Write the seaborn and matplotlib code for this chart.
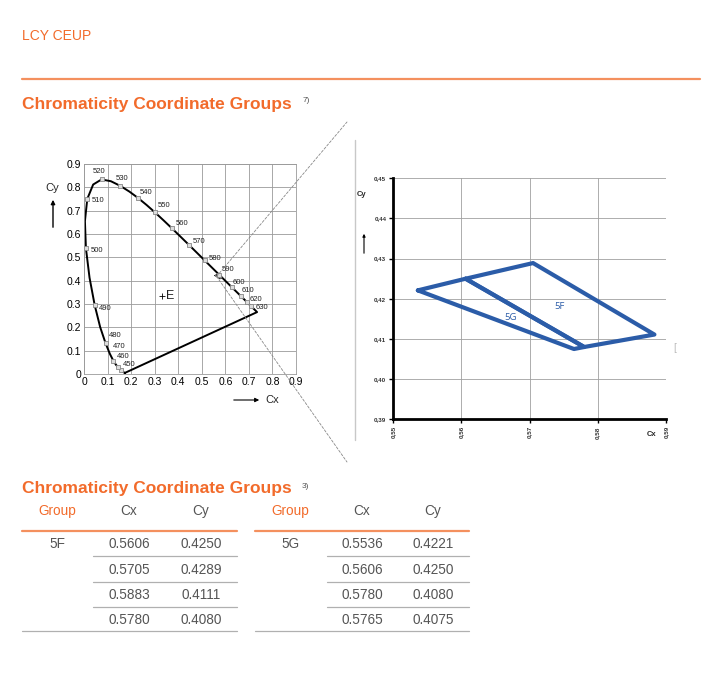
import numpy as np
import pandas as pd
import matplotlib
matplotlib.use("Agg")
import matplotlib.pyplot as plt
import seaborn as sns
from matplotlib.lines import Line2D
from matplotlib.patches import ConnectionPatch, FancyArrowPatch
from matplotlib.ticker import FuncFormatter

# spectral locus (CIE 1931), wavelength -> Cx, Cy
locus_nm = [380, 420, 440, 450, 460, 465, 470, 475, 480, 485, 490, 495, 500, 505, 510, 515,
            520, 525, 530, 535, 540, 545, 550, 555, 560, 565, 570, 575, 580, 585, 590, 595,
            600, 610, 620, 630, 640, 650, 700]
locus_cx = [0.1741, 0.1714, 0.1644, 0.1566, 0.1440, 0.1355, 0.1241, 0.1096, 0.0913, 0.0687,
            0.0454, 0.0235, 0.0082, 0.0039, 0.0139, 0.0389, 0.0743, 0.1142, 0.1547, 0.1929,
            0.2296, 0.2658, 0.3016, 0.3373, 0.3731, 0.4087, 0.4441, 0.4788, 0.5125, 0.5448,
            0.5752, 0.6029, 0.6270, 0.6658, 0.6915, 0.7079, 0.7190, 0.7260, 0.7347]
locus_cy = [0.0050, 0.0051, 0.0109, 0.0177, 0.0297, 0.0399, 0.0578, 0.0868, 0.1327, 0.2007,
            0.2950, 0.4127, 0.5384, 0.6548, 0.7502, 0.8120, 0.8338, 0.8262, 0.8059, 0.7816,
            0.7543, 0.7243, 0.6923, 0.6589, 0.6245, 0.5896, 0.5547, 0.5202, 0.4866, 0.4544,
            0.4242, 0.3965, 0.3725, 0.3340, 0.3083, 0.2920, 0.2809, 0.2740, 0.2653]
labeled_nm = [450, 460, 470, 480, 490, 500, 510, 520, 530, 540, 550, 560, 570, 580, 590,
              600, 610, 620, 630]

# white point E
e_cx, e_cy = 0.333, 0.333

# chromaticity groups
group_names = ["5F", "5G"]
f_cx = [0.5606, 0.5705, 0.5883, 0.5780]
f_cy = [0.4250, 0.4289, 0.4111, 0.4080]
g_cx = [0.5536, 0.5606, 0.5780, 0.5765]
g_cy = [0.4221, 0.4250, 0.4080, 0.4075]

left_ticks = [0, 0.1, 0.2, 0.3, 0.4, 0.5, 0.6, 0.7, 0.8, 0.9]
right_xticks = [0.55, 0.56, 0.57, 0.58, 0.59]
right_yticks = [0.39, 0.40, 0.41, 0.42, 0.43, 0.44, 0.45]

# label offsets (pixels, right/up) for the wavelength labels
lab_off = {450: (2.4, 4.9), 460: (-1.2, 10.3), 470: (0, 13.8), 480: (3.7, 7.1), 490: (4.4, -3.7),
           500: (4.4, -1.7), 510: (4.8, -1.4), 520: (-8.6, 7.7), 530: (-4.9, 7.9), 540: (1.5, 5.8),
           550: (2.2, 6.5), 560: (3.8, 4.3), 570: (3.8, 3.5), 580: (4.1, 1.5), 590: (1.9, 5.1),
           600: (0.5, 4.8), 610: (0.5, 5.8), 620: (2.8, 3.0), 630: (4.7, -2.0)}

W, H = 709, 677
ORANGE = "#F26B2B"
ORANGE_LINE = "#F4905E"
GRAY_TXT = "#555555"
BLUE = "#2B5CA8"

sns.set_theme(style="white")
plt.rcParams["font.family"] = ["Liberation Sans", "DejaVu Sans"]

fig = plt.figure(figsize=(W / 100, H / 100), dpi=100)
fig.patch.set_facecolor("white")


def fx(px):
    return px / W


def fy(py):
    return 1 - py / H


def hline(x0, x1, y, color, lw):
    fig.add_artist(Line2D([fx(x0), fx(x1)], [fy(y), fy(y)], color=color, lw=lw,
                          transform=fig.transFigure))


def arrow(p0, p1, scale, lw):
    fig.add_artist(FancyArrowPatch((fx(p0[0]), fy(p0[1])), (fx(p1[0]), fy(p1[1])),
                                   transform=fig.transFigure, arrowstyle="-|>",
                                   mutation_scale=scale, lw=lw, color="black"))


# header
fig.text(fx(22), fy(36), "LCY CEUP", color=ORANGE, fontsize=10, va="center", ha="left")
hline(22, 700, 79, ORANGE_LINE, 1.6)
fig.text(fx(22), fy(104), "Chromaticity Coordinate Groups", color=ORANGE, fontsize=12.5,
         fontweight="bold", va="center", ha="left")
fig.text(fx(303), fy(100), "7)", color=GRAY_TXT, fontsize=6, va="center", ha="left")

# ---- left chart: CIE diagram
axL = fig.add_axes([fx(84), fy(374), (296 - 84) / W, (374 - 164) / H])
closed = pd.DataFrame({"cx": locus_cx + [locus_cx[0]], "cy": locus_cy + [locus_cy[0]]})
sns.lineplot(data=closed, x="cx", y="cy", sort=False, estimator=None, color="black", lw=1.4, ax=axL)
pts = pd.DataFrame({"nm": locus_nm, "cx": locus_cx, "cy": locus_cy})
pts = pts[pts["nm"].isin(labeled_nm)]
sns.scatterplot(data=pts, x="cx", y="cy", marker="s", s=9, facecolor="#dddddd", edgecolor="#888888",
                linewidth=0.6, ax=axL, zorder=3)
for nm, cx, cy in zip(pts["nm"], pts["cx"], pts["cy"]):
    dx, dy = lab_off[nm]
    axL.annotate(str(nm), (cx, cy), xytext=(dx * 0.72, dy * 0.72), textcoords="offset points",
                 fontsize=5.5, color="#222222", ha="left", va="center")
for cx, cy in [(f_cx, f_cy), (g_cx, g_cy)]:
    axL.plot(cx + [cx[0]], cy + [cy[0]], color="#333333", lw=0.5)
axL.plot([e_cx], [e_cy], marker="+", color="black", ms=4, mew=0.6)
axL.annotate("E", (e_cx, e_cy), xytext=(2.5, 0), textcoords="offset points", fontsize=9,
             ha="left", va="center", color="#222222")
axL.set_xlim(0, 0.9)
axL.set_ylim(0, 0.9)
axL.set_xticks(left_ticks)
axL.set_yticks(left_ticks)
fmt = FuncFormatter(lambda v, p: "0" if v == 0 else f"{v:.1f}")
axL.xaxis.set_major_formatter(fmt)
axL.yaxis.set_major_formatter(fmt)
axL.tick_params(length=0, labelsize=7.5, pad=2, colors="black")
axL.grid(True, color="#9a9a9a", lw=0.6)
for s in axL.spines.values():
    s.set_color("#9a9a9a")
    s.set_linewidth(0.6)
axL.set_xlabel("")
axL.set_ylabel("")
fig.text(fx(45), fy(188), "Cy", fontsize=8, va="center", ha="left")
fig.text(fx(265), fy(400), "Cx", fontsize=8, va="center", ha="left")
arrow((53, 230), (53, 197), 6, 1)
arrow((231, 400), (262, 400), 6, 0.8)

# zoom lines
for end in [(347, 122), (347, 462)]:
    con = ConnectionPatch(xyA=(0.563, 0.418), coordsA=axL.transData,
                          xyB=(fx(end[0]), fy(end[1])), coordsB=fig.transFigure,
                          color="#888888", lw=0.6, linestyle=(0, (3, 2)))
    fig.add_artist(con)

# right panel separator line
fig.add_artist(Line2D([fx(355), fx(355)], [fy(140), fy(440)], color="#c8c8c8", lw=1,
                      transform=fig.transFigure))
fig.text(fx(673), fy(348), "[", fontsize=7, color="#bbbbbb", va="center", ha="left")

# ---- right chart: groups
axR = fig.add_axes([fx(393.3), fy(419.3), (666 - 393.3) / W, (419.3 - 178.3) / H])
poly = pd.DataFrame({
    "cx": f_cx + [f_cx[0]] + g_cx + [g_cx[0]],
    "cy": f_cy + [f_cy[0]] + g_cy + [g_cy[0]],
    "group": [group_names[0]] * 5 + [group_names[1]] * 5,
})
sns.lineplot(data=poly, x="cx", y="cy", hue="group", sort=False, estimator=None,
             palette=[BLUE, BLUE], lw=3, legend=False, ax=axR, zorder=3)
# group labels inside the shapes
axR.text(np.mean(f_cx), np.mean(f_cy) - 0.0002, group_names[0], color=BLUE, fontsize=6.8,
         ha="center", va="center", family=["Open Sans", "DejaVu Sans"])
axR.text(np.mean(g_cx) + 0.0001, np.mean(g_cy) - 0.0004, group_names[1], color=BLUE, fontsize=6.8,
         ha="center", va="center", family=["Open Sans", "DejaVu Sans"])
axR.set_xlim(0.55, 0.59)
axR.set_ylim(0.39, 0.45)
axR.set_xticks(right_xticks)
axR.set_yticks(right_yticks)
cfmt = FuncFormatter(lambda v, p: f"{v:.2f}".replace(".", ","))
axR.xaxis.set_major_formatter(cfmt)
axR.yaxis.set_major_formatter(cfmt)
axR.tick_params(axis="both", length=3, width=1, colors="black", labelsize=4.5, pad=2,
                direction="out", bottom=True, left=True)
axR.tick_params(axis="x", labelrotation=90)
for lab in axR.get_xticklabels() + axR.get_yticklabels():
    lab.set_fontweight("bold")
    lab.set_color("#333333")
axR.grid(True, color="#a0a0a0", lw=0.6)
for side in ["top", "right"]:
    axR.spines[side].set_visible(False)
for side in ["left", "bottom"]:
    axR.spines[side].set_color("black")
    axR.spines[side].set_linewidth(2)
axR.set_xlabel("")
axR.set_ylabel("")
fig.text(fx(357), fy(195), "Cy", fontsize=5.5, fontweight="bold", va="center", ha="left")
fig.text(fx(647), fy(434), "Cx", fontsize=5.5, fontweight="bold", va="center", ha="left")
arrow((364, 256), (364, 231), 4, 0.8)

# ---- table
fig.text(fx(22), fy(489), "Chromaticity Coordinate Groups", color=ORANGE, fontsize=12.5,
         fontweight="bold", va="center", ha="left")
fig.text(fx(302), fy(486), "3)", color=GRAY_TXT, fontsize=6, va="center", ha="left")

tables = [
    (group_names[0], f_cx, f_cy, 22, 237, 93, [57, 129, 201]),
    (group_names[1], g_cx, g_cy, 255, 469, 327, [290, 362, 433]),
]
row_y = [544, 570, 595, 620]
for name, cx, cy, x0, x1, xs, cols in tables:
    fig.text(fx(cols[0]), fy(511), "Group", color=ORANGE, fontsize=9.8, ha="center", va="center")
    fig.text(fx(cols[1]), fy(511), "Cx", color=GRAY_TXT, fontsize=9.8, ha="center", va="center")
    fig.text(fx(cols[2]), fy(511), "Cy", color=GRAY_TXT, fontsize=9.8, ha="center", va="center")
    hline(x0, x1, 530.5, ORANGE_LINE, 1.6)
    fig.text(fx(cols[0]), fy(row_y[0]), name, color=GRAY_TXT, fontsize=9.8, ha="center", va="center")
    for i, (vx, vy) in enumerate(zip(cx, cy)):
        fig.text(fx(cols[1]), fy(row_y[i]), f"{vx:.4f}", color=GRAY_TXT, fontsize=9.8,
                 ha="center", va="center")
        fig.text(fx(cols[2]), fy(row_y[i]), f"{vy:.4f}", color=GRAY_TXT, fontsize=9.8,
                 ha="center", va="center")
        if i < 3:
            hline(xs, x1, row_y[i] + 12, "#b0b0b0", 0.9)
    hline(x0, x1, 631, "#b0b0b0", 0.9)

fig.savefig("out.png", dpi=100, facecolor="white")
